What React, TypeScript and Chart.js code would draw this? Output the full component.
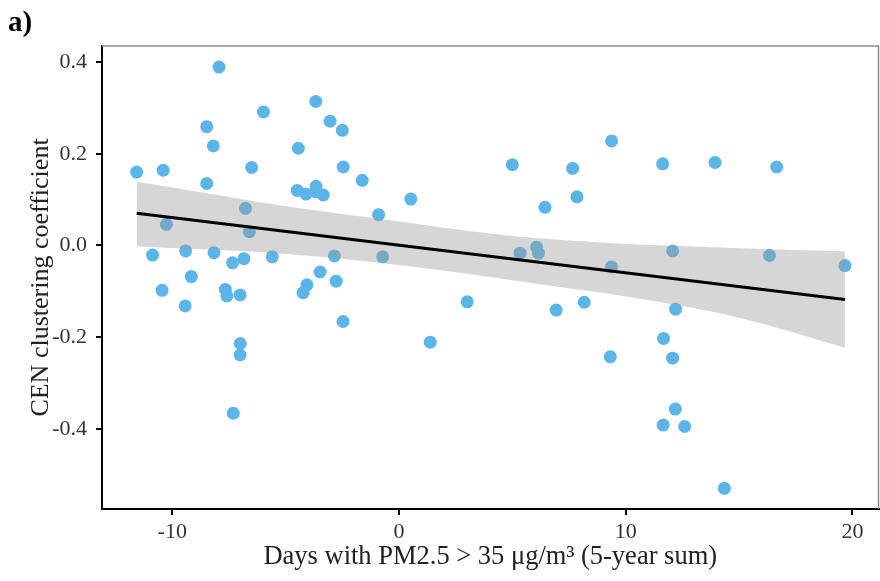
import React, { useEffect, useRef } from "react";
import { Chart, registerables } from "chart.js";

Chart.register(...registerables);

// Scatter points (x = days with PM2.5 > 35, y = CEN clustering coefficient)
const pointX = [
  -11.57, -10.40, -7.94, -8.48, -8.19, -8.48, -5.98, -6.50, -3.67, -3.04, -2.50, -4.44, -2.46, -1.62,
  -4.49, -4.10, -3.66, -3.68, -3.34, -0.90, -6.77, -10.26, -6.60, -10.87, -9.41, -8.16, -7.34, -6.84,
  -5.59, -2.85, -0.72, -3.48, -9.16, -10.45, -9.43, -7.66, -7.59, -7.01, -4.06, -4.23, -2.77, -2.47,
  -7.00, -7.01, -7.31, 0.52, 5.00, 7.66, 9.38, 11.63, 6.44, 7.85, 5.34, 6.07, 6.15, 12.07, 9.37,
  3.01, 1.38, 6.93, 8.17, 9.32, 12.20, 11.67, 12.07, 12.19, 11.65, 13.94, 16.66, 16.34, 19.67,
  12.60, 14.35,
];
const pointY = [
  0.160, 0.164, 0.389, 0.259, 0.217, 0.135, 0.291, 0.170, 0.314, 0.271, 0.251, 0.212, 0.171, 0.142,
  0.120, 0.112, 0.129, 0.117, 0.110, 0.067, 0.081, 0.046, 0.030, -0.021, -0.012, -0.016, -0.038, -0.029,
  -0.025, -0.023, -0.025, -0.058, -0.068, -0.098, -0.132, -0.096, -0.110, -0.108, -0.086, -0.103, -0.078, -0.166,
  -0.214, -0.239, -0.366, 0.101, 0.176, 0.168, 0.228, 0.178, 0.083, 0.106, -0.017, -0.004, -0.017, -0.012, -0.047,
  -0.123, -0.211, -0.141, -0.124, -0.243, -0.139, -0.203, -0.246, -0.357, -0.392, 0.181, 0.171, -0.022, -0.044,
  -0.395, -0.530,
];

// Regression line endpoints
const fitX = [-11.57, 19.67];
const fitY = [0.070, -0.118];

// Confidence band
const bandX = [-11.57, -9, -6, -3, 0, 3, 6, 9, 12, 15, 19.67];
const bandUpper = [0.139, 0.118, 0.093, 0.072, 0.052, 0.032, 0.016, 0.006, -0.001, -0.006, -0.013];
const bandLower = [-0.002, -0.008, -0.015, -0.027, -0.043, -0.062, -0.083, -0.104, -0.128, -0.158, -0.223];

// Axis ticks
const xTicks = [-10, 0, 10, 20];
const yTicks = [-0.4, -0.2, 0.0, 0.2, 0.4];

const SERIF = "'Liberation Serif', 'DejaVu Serif', serif";

const boxPlugin = {
  id: "boxPlugin",
  afterDatasetsDraw(chart: any) {
    const { ctx, chartArea } = chart;
    ctx.save();
    ctx.strokeStyle = "#8a8a8a";
    ctx.lineWidth = 1.5;
    ctx.beginPath();
    ctx.moveTo(chartArea.left, chartArea.top);
    ctx.lineTo(chartArea.right, chartArea.top);
    ctx.lineTo(chartArea.right, chartArea.bottom);
    ctx.stroke();
    ctx.restore();
  },
};

export default function App() {
  const ref = useRef<HTMLCanvasElement | null>(null);

  useEffect(() => {
    if (!ref.current) return;
    const chart = new Chart(ref.current, {
      type: "scatter",
      data: {
        datasets: [
          {
            type: "line",
            data: fitX.map((x, i) => ({ x, y: fitY[i] })),
            borderColor: "#000000",
            borderWidth: 3,
            pointRadius: 0,
            fill: false,
            order: 0,
          } as any,
          {
            type: "line",
            data: bandX.map((x, i) => ({ x, y: bandUpper[i] })),
            borderWidth: 0,
            borderColor: "rgba(0,0,0,0)",
            backgroundColor: "rgba(153,153,153,0.4)",
            pointRadius: 0,
            fill: "+1",
            cubicInterpolationMode: "monotone",
            order: 1,
          } as any,
          {
            type: "line",
            data: bandX.map((x, i) => ({ x, y: bandLower[i] })),
            borderWidth: 0,
            borderColor: "rgba(0,0,0,0)",
            pointRadius: 0,
            fill: false,
            cubicInterpolationMode: "monotone",
            order: 1,
          } as any,
          {
            type: "scatter",
            data: pointX.map((x, i) => ({ x, y: pointY[i] })),
            backgroundColor: "#5CB5E8",
            borderWidth: 0,
            pointRadius: 6.5,
            order: 2,
          } as any,
        ],
      },
      options: {
        animation: false,
        responsive: false,
        devicePixelRatio: 1,
        layout: { padding: { left: 0, right: 0, top: 46, bottom: 0 } },
        plugins: { legend: { display: false }, tooltip: { enabled: false } },
        scales: {
          x: {
            type: "linear",
            min: -13.1,
            max: 21.15,
            afterBuildTicks: (s: any) => {
              s.ticks = xTicks.map((v) => ({ value: v }));
            },
            afterFit: (s: any) => {
              s.height = 72;
            },
            grid: { drawOnChartArea: false, drawTicks: true, tickLength: 6, color: "#000", lineWidth: 2 },
            border: { display: true, color: "#000", width: 2 },
            ticks: {
              color: "#333",
              font: { family: SERIF, size: 22 },
              padding: 4,
              callback: (v: any) => String(v),
            },
            title: {
              display: true,
              text: "Days with PM2.5 > 35 \u03BCg/m\u00B3 (5-year sum)",
              color: "#222",
              font: { family: SERIF, size: 26.5 },
              padding: { top: 0, bottom: 8 },
            },
          },
          y: {
            type: "linear",
            min: -0.575,
            max: 0.435,
            afterBuildTicks: (s: any) => {
              s.ticks = yTicks.map((v) => ({ value: v }));
            },
            afterFit: (s: any) => {
              s.width = 102;
            },
            grid: { drawOnChartArea: false, drawTicks: true, tickLength: 6, color: "#000", lineWidth: 2 },
            border: { display: true, color: "#000", width: 2 },
            ticks: {
              color: "#333",
              font: { family: SERIF, size: 22 },
              padding: 9,
              callback: (v: any) => Number(v).toFixed(1),
            },
            title: {
              display: true,
              text: "CEN clustering coefficient",
              color: "#222",
              font: { family: SERIF, size: 26 },
              padding: { top: 26, bottom: 0 },
            },
          },
        },
      },
      plugins: [boxPlugin],
    });
    return () => chart.destroy();
  }, []);

  return (
    <div
      style={{
        position: "absolute",
        left: 0,
        top: 0,
        width: 880,
        height: 581,
        overflow: "hidden",
        background: "#fff",
      }}
    >
      <canvas ref={ref} width={885} height={581} style={{ display: "block" }} />
      <div
        style={{
          position: "absolute",
          left: 8,
          top: 4,
          fontFamily: SERIF,
          fontWeight: "bold",
          fontSize: 29,
          color: "#000",
          lineHeight: 1.2,
        }}
      >
        a)
      </div>
    </div>
  );
}
